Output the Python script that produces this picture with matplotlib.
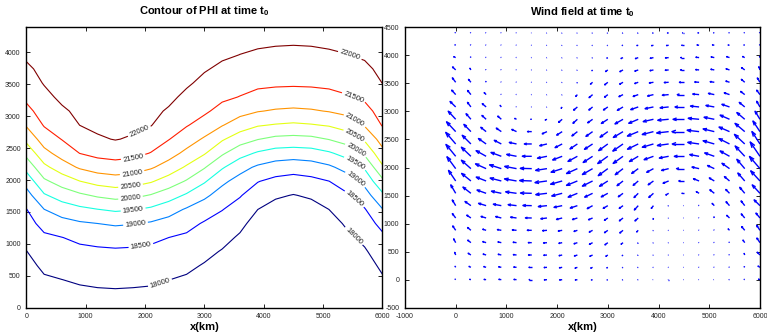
import numpy as np
import matplotlib
matplotlib.use("Agg")
import matplotlib.pyplot as plt
from matplotlib.collections import LineCollection

plt.rcParams['font.family'] = ['Liberation Sans', 'DejaVu Sans']
plt.rcParams['mathtext.fontset'] = 'custom'
plt.rcParams['mathtext.rm'] = 'Liberation Sans'
plt.rcParams['mathtext.bf'] = 'Liberation Sans:bold'
plt.rcParams['axes.unicode_minus'] = False

# ---------------- data ----------------
x_km = [0, 300, 600, 900, 1200, 1500, 1800, 2100, 2400, 2700, 3000,
        3300, 3600, 3900, 4200, 4500, 4800, 5100, 5400, 5700, 6000]
y_km = [0, 220, 440, 660, 880, 1100, 1320, 1540, 1760, 1980, 2200,
        2420, 2640, 2860, 3080, 3300, 3520, 3740, 3960, 4180, 4400]
levels = [18000, 18500, 19000, 19500, 20000, 20500, 21000, 21500, 22000]

# y (km) where each PHI contour crosses each x column
y_18000 = [903, 539, 445, 372, 330, 314, 330, 356, 434, 539, 720,
           930, 1189, 1539, 1711, 1778, 1711, 1539, 1242, 966, 539]
y_18500 = [1564, 1216, 1111, 1033, 992, 966, 985, 1030, 1100, 1205, 1383,
           1528, 1736, 1970, 2075, 2111, 2075, 1986, 1841, 1580, 1231]
y_19000 = [1892, 1544, 1434, 1361, 1320, 1294, 1310, 1356, 1450, 1580, 1711,
           1930, 2120, 2245, 2310, 2330, 2310, 2245, 2120, 1900, 1555]
y_19500 = [2127, 1789, 1658, 1591, 1544, 1513, 1530, 1580, 1673, 1789, 1955,
           2177, 2348, 2445, 2501, 2513, 2501, 2445, 2348, 2177, 1814]
y_20000 = [2360, 2023, 1892, 1798, 1736, 1700, 1715, 1773, 1867, 2000, 2183,
           2387, 2544, 2633, 2684, 2695, 2684, 2633, 2550, 2380, 2030]
y_20500 = [2570, 2258, 2102, 1984, 1917, 1882, 1900, 1960, 2075, 2230, 2395,
           2614, 2752, 2842, 2873, 2892, 2873, 2842, 2765, 2610, 2230]
y_21000 = [2830, 2492, 2290, 2170, 2100, 2070, 2095, 2170, 2290, 2480, 2674,
           2841, 2970, 3064, 3102, 3117, 3102, 3064, 2990, 2830, 2508]
y_21500 = [3169, 2814, 2622, 2414, 2320, 2294, 2320, 2430, 2622, 2820, 2975,
           3184, 3309, 3388, 3419, 3430, 3419, 3388, 3325, 3195, 2820]
y_22000 = [3840, 3470, 3160, 2856, 2684, 2622, 2680, 2840, 3130, 3420, 3670,
           3850, 3965, 4040, 4080, 4096, 4080, 4035, 3970, 3858, 3508]

# field beyond the outermost contours
y_17800 = [559, 187, 99, 28, None, None, None, None, 88, 187, 375,
           619, 905, 1315, 1522, 1605, 1522, 1307, 931, 647, 179]
phi_bottom = [17730, 17760, 17770, 17790, 17808, 17818, 17808, 17795, 17775, 17760, 17740,
              17725, 17720, 17720, 17720, 17720, 17720, 17720, 17720, 17725, 17755]
y_22100 = [4014, 3641, 3300, 2971, 2779, 2707, 2774, 2947, 3262, 3576, 3851,
           4023, 4136, 4210, 4252, 4269, 4252, 4203, 4138, 4030, 3687]
phi_top = [22140, 22160, 22166, 22171, 22180, 22180, 22180, 22172, 22165, 22160, 22150,
           22140, 22130, 22120, 22115, 22113, 22115, 22120, 22130, 22140, 22160]

crossings = [y_18000, y_18500, y_19000, y_19500, y_20000,
             y_20500, y_21000, y_21500, y_22000]

# ---------------- build the PHI grid ----------------
X = np.array(x_km, dtype=float)
Y = np.array(y_km, dtype=float)
PHI = np.empty((len(Y), len(X)))
for i in range(len(X)):
    pts = [(Y[0], phi_bottom[i]), (y_17800[i], 17800)]
    pts += [(c[i], lev) for c, lev in zip(crossings, levels)]
    pts += [(y_22100[i], 22100), (Y[-1], phi_top[i])]
    pts = [p for p in pts if p[0] is not None]
    PHI[:, i] = np.interp(Y, [p[0] for p in pts], [p[1] for p in pts])

# geostrophic wind from PHI
dPdy, dPdx = np.gradient(PHI, Y, X)
U = -dPdy
V = dPdx

# ---------------- figure ----------------
fig = plt.figure(figsize=(7.67, 3.34), dpi=100)
ax1 = fig.add_axes([0.0343, 0.0784, 0.4643, 0.8416])
ax2 = fig.add_axes([0.528, 0.0787, 0.4628, 0.8395])

tick_kw = dict(direction='in', top=True, right=True, labelsize=5, length=3,
               width=0.6, pad=4, labelcolor='#262626')

# --- left: contour ---
cs = ax1.contour(X, Y, PHI, levels=levels, cmap='jet', vmin=18000, vmax=22000,
                 linewidths=0.8)
label_pts = [
    (1914, 2742), (5450, 3950),
    (1801, 2351), (5494, 3247),
    (1785, 2101), (5517, 2908),
    (1757, 1908), (5517, 2673),
    (1757, 1711), (5534, 2439),
    (1801, 1528), (5534, 2258),
    (1841, 1309), (5534, 1997),
    (1925, 1008), (5534, 1711),
    (2251, 392), (5505, 1111),
]
cs.clabel(manual=label_pts, inline=True, inline_spacing=2,
          fontsize=5.5, fmt='%d', colors='#222222')

ax1.set_xlim(0, 6000)
ax1.set_ylim(0, 4400)
ax1.set_xticks(range(0, 6001, 1000))
ax1.set_yticks(range(0, 4001, 500))
ax1.tick_params(**tick_kw)
ax1.set_title('Contour of PHI at time $\\mathbf{t_0}$', fontsize=8,
              fontweight='bold', pad=9)
ax1.set_xlabel('x(km)', fontsize=8, fontweight='bold', labelpad=1)

# --- right: quiver (MATLAB-style arrows) ---
n, m = len(X), len(Y)
delx = (X.max() - X.min()) / n
dely = (Y.max() - Y.min()) / m
del2 = delx ** 2 + dely ** 2
maxlen = np.sqrt((U ** 2 + V ** 2) / del2).max()
s = 0.9 / maxlen
u = U * s
v = V * s
XX, YY = np.meshgrid(X, Y)
a = b = 0.33
segs = []
for xx, yy, uu, vv in zip(XX.ravel(), YY.ravel(), u.ravel(), v.ravel()):
    tx, ty = xx + uu, yy + vv
    segs.append([(xx, yy), (tx, ty)])
    segs.append([(tx - a * (uu + b * vv), ty - a * (vv - b * uu)),
                 (tx, ty),
                 (tx - a * (uu - b * vv), ty - a * (vv + b * uu))])
lc = LineCollection(segs, colors='#0000ff', linewidths=1.0)
ax2.add_collection(lc)
ax2.set_xlim(-1000, 6000)
ax2.set_ylim(-500, 4500)
ax2.set_xticks(range(-1000, 6001, 1000))
ax2.set_yticks(range(-500, 4501, 500))
ax2.tick_params(**tick_kw)
ax2.set_title('Wind field at time $\\mathbf{t_0}$', fontsize=8,
              fontweight='bold', pad=9)
ax2.set_xlabel('x(km)', fontsize=8, fontweight='bold', labelpad=1)

for ax in (ax1, ax2):
    for sp in ax.spines.values():
        sp.set_linewidth(1.0)
        sp.set_color('black')

fig.savefig('out.png', dpi=100)
